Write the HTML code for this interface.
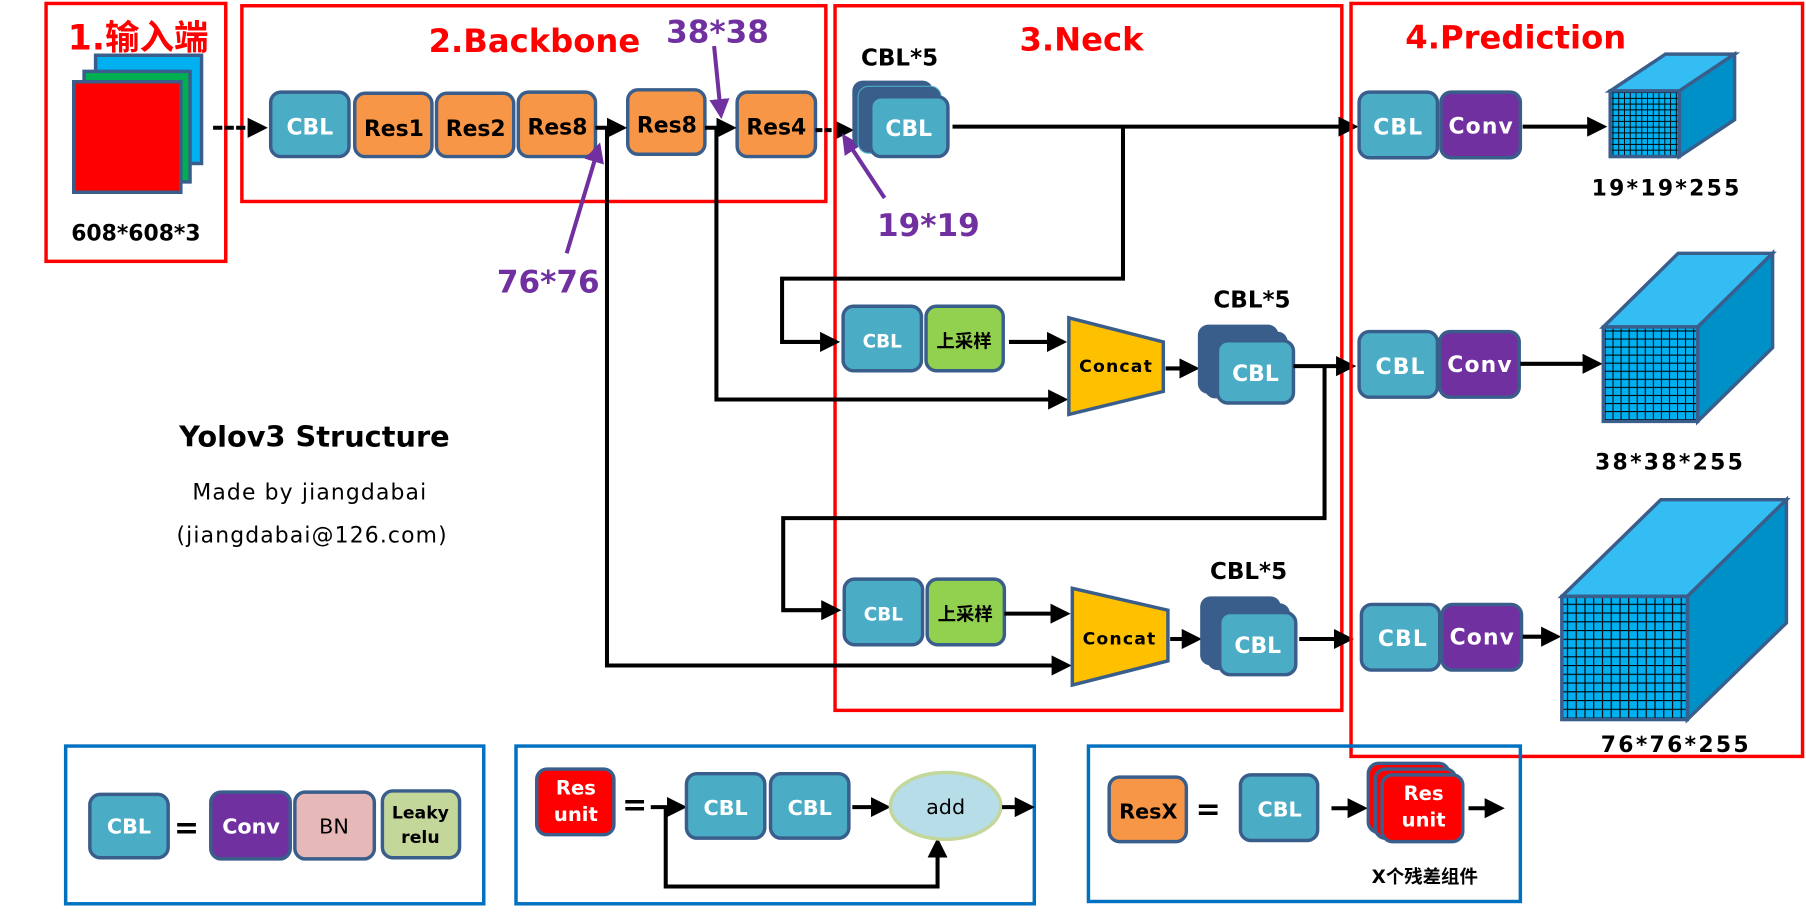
<!DOCTYPE html>
<html><head><meta charset="utf-8"><style>
html,body{margin:0;padding:0;background:#fff;}
svg{display:block;}
text{font-family:"DejaVu Sans","Liberation Sans","Noto Sans CJK SC",sans-serif;font-weight:bold;}
.b{stroke:#3a5e8c;stroke-width:3;}
.w{fill:#fff;}
.k{fill:#000;}
.red{fill:none;stroke:#ff0000;stroke-width:3;}
.blue{fill:none;stroke:#0070c0;stroke-width:3;}
.ln{fill:none;stroke:#000;stroke-width:3.5;}
.pl{fill:none;stroke:#7030a0;stroke-width:3.5;}
</style></head><body>
<svg width="1806" height="913" viewBox="0 0 1568 793" preserveAspectRatio="none" xmlns="http://www.w3.org/2000/svg">
<defs>
<marker id="ah" markerWidth="5" markerHeight="5" refX="4" refY="2.5" orient="auto" markerUnits="strokeWidth"><path d="M0,0 L5,2.5 L0,5 z" fill="#000"/></marker>
<marker id="ap" markerWidth="5" markerHeight="5" refX="4" refY="2.5" orient="auto" markerUnits="strokeWidth"><path d="M0,0 L5,2.5 L0,5 z" fill="#7030a0"/></marker>
<pattern id="g1" width="5" height="5" patternUnits="userSpaceOnUse"><rect width="5" height="5" fill="#00b0f0"/><path d="M0,0H5M0,0V5" stroke="#000" stroke-width="1.6"/></pattern>
<pattern id="g2" width="7" height="7" patternUnits="userSpaceOnUse"><rect width="7" height="7" fill="#00b0f0"/><path d="M0,0H7M0,0V7" stroke="#000" stroke-width="1.8"/></pattern>
<pattern id="g3" width="7.6" height="7.6" patternUnits="userSpaceOnUse"><rect width="7.6" height="7.6" fill="#00b0f0"/><path d="M0,0H7.6M0,0V7.6" stroke="#000" stroke-width="2"/></pattern>
</defs>

<!-- 1 input -->
<rect class="red" x="40" y="3" width="156" height="224"/>
<text x="120" y="43" font-size="30" fill="#ff0000" text-anchor="middle">1.输入端</text>
<rect x="83" y="48" width="92" height="94" fill="#00b0f0" class="b"/>
<rect x="73" y="62" width="92" height="96" fill="#00b050" class="b"/>
<rect x="64" y="71" width="93" height="96" fill="#ff0000" class="b"/>
<text x="118" y="209" font-size="19" text-anchor="middle" class="k">608*608*3</text>

<!-- 2 backbone -->
<rect class="red" x="210" y="5" width="507" height="170"/>
<text x="464" y="45" font-size="28" fill="#ff0000" text-anchor="middle">2.Backbone</text>
<text x="623" y="37" font-size="27" fill="#7030a0" text-anchor="middle">38*38</text>
<line class="ln" x1="185" y1="111" x2="229" y2="111" stroke-dasharray="8,2" marker-end="url(#ah)"/>
<rect x="235" y="80" width="68" height="56" rx="9" fill="#4bacc6" class="b"/>
<text x="269" y="117" font-size="19" text-anchor="middle" class="w">CBL</text>
<rect x="308" y="81" width="67" height="55" rx="9" fill="#f79646" class="b"/>
<text x="342" y="118" font-size="19" text-anchor="middle" class="k">Res1</text>
<rect x="379" y="81" width="67" height="55" rx="9" fill="#f79646" class="b"/>
<text x="413" y="118" font-size="19" text-anchor="middle" class="k">Res2</text>
<rect x="450" y="80" width="67" height="56" rx="9" fill="#f79646" class="b"/>
<text x="484" y="117" font-size="19" text-anchor="middle" class="k">Res8</text>
<rect x="545" y="78" width="67" height="56" rx="9" fill="#f79646" class="b"/>
<text x="579" y="115" font-size="19" text-anchor="middle" class="k">Res8</text>
<rect x="640" y="80" width="68" height="56" rx="9" fill="#f79646" class="b"/>
<text x="674" y="117" font-size="19" text-anchor="middle" class="k">Res4</text>
<line class="ln" x1="517" y1="111" x2="541" y2="111" marker-end="url(#ah)"/>
<line class="ln" x1="612" y1="111" x2="636" y2="111" marker-end="url(#ah)"/>
<line class="ln" x1="708" y1="113" x2="738" y2="113" stroke-dasharray="6,2" marker-end="url(#ah)"/>
<line class="pl" x1="620" y1="40" x2="626" y2="100" marker-end="url(#ap)"/>
<line class="pl" x1="492" y1="220" x2="520" y2="127" marker-end="url(#ap)"/>
<text x="476" y="254" font-size="27" fill="#7030a0" text-anchor="middle">76*76</text>
<line class="pl" x1="768" y1="172" x2="733" y2="119" marker-end="url(#ap)"/>
<text x="806" y="205" font-size="27" fill="#7030a0" text-anchor="middle">19*19</text>

<!-- Yolov3 text -->
<text x="273" y="388" font-size="25" text-anchor="middle" class="k">Yolov3 Structure</text>
<text x="269" y="434" font-size="19" style="font-weight:normal" text-anchor="middle" letter-spacing="1" class="k">Made by jiangdabai</text>
<text x="271" y="471" font-size="19" style="font-weight:normal" text-anchor="middle" letter-spacing="1" class="k">(jiangdabai@126.com)</text>

<!-- 3 neck -->
<rect class="red" x="725" y="5" width="440" height="612"/>
<text x="939" y="44" font-size="28" fill="#ff0000" text-anchor="middle">3.Neck</text>
<text x="781" y="57" font-size="20" text-anchor="middle" class="k">CBL*5</text>
<rect x="740" y="70" width="70" height="58" rx="9" fill="#3a5e8c"/>
<rect x="745" y="75" width="72" height="58" rx="9" fill="#3a5e8c" stroke="#4bacc6" stroke-width="1"/>
<rect x="756" y="84" width="67" height="52" rx="9" fill="#4bacc6" class="b"/>
<text x="789" y="118" font-size="19" text-anchor="middle" class="w">CBL</text>

<polyline class="ln" points="827,110 1176,110" marker-end="url(#ah)"/>
<polyline class="ln" points="975,110 975,242 679,242 679,297 726,297" marker-end="url(#ah)"/>
<polyline class="ln" points="622,111 622,347 924,347" marker-end="url(#ah)"/>
<polyline class="ln" points="527,111 527,578 927,578" marker-end="url(#ah)"/>

<!-- row 2 -->
<rect x="732" y="266" width="68" height="56" rx="9" fill="#4bacc6" class="b"/>
<text x="766" y="302" font-size="16" text-anchor="middle" class="w">CBL</text>
<rect x="804" y="266" width="67" height="56" rx="9" fill="#92d050" class="b"/>
<text x="837" y="302" font-size="16" text-anchor="middle" class="k">上采样</text>
<line class="ln" x1="876" y1="297" x2="923" y2="297" marker-end="url(#ah)"/>
<polygon points="928,276 1010,297 1010,340 928,360" fill="#ffc000" class="b"/>
<text x="969" y="323" font-size="15" text-anchor="middle" class="k" letter-spacing="1">Concat</text>
<line class="ln" x1="1012" y1="320" x2="1038" y2="320" marker-end="url(#ah)"/>
<text x="1087" y="267" font-size="20" text-anchor="middle" class="k">CBL*5</text>
<rect x="1040" y="282" width="70" height="60" rx="9" fill="#3a5e8c"/>
<rect x="1046" y="288" width="72" height="58" rx="9" fill="#3a5e8c"/>
<rect x="1057" y="296" width="66" height="54" rx="9" fill="#4bacc6" class="b"/>
<text x="1090" y="331" font-size="19" text-anchor="middle" class="w">CBL</text>
<polyline class="ln" points="1123,318 1174,318" marker-end="url(#ah)"/>
<polyline class="ln" points="1150,318 1150,450 680,450 680,530 727,530" marker-end="url(#ah)"/>

<!-- row 3 -->
<rect x="733" y="503" width="68" height="57" rx="9" fill="#4bacc6" class="b"/>
<text x="767" y="539" font-size="16" text-anchor="middle" class="w">CBL</text>
<rect x="805" y="503" width="67" height="57" rx="9" fill="#92d050" class="b"/>
<text x="838" y="539" font-size="16" text-anchor="middle" class="k">上采样</text>
<line class="ln" x1="872" y1="533" x2="926" y2="533" marker-end="url(#ah)"/>
<polygon points="931,511 1014,530 1014,574 931,595" fill="#ffc000" class="b"/>
<text x="972" y="560" font-size="15" text-anchor="middle" class="k" letter-spacing="1">Concat</text>
<line class="ln" x1="1016" y1="555" x2="1040" y2="555" marker-end="url(#ah)"/>
<text x="1084" y="503" font-size="20" text-anchor="middle" class="k">CBL*5</text>
<rect x="1042" y="518" width="70" height="60" rx="9" fill="#3a5e8c"/>
<rect x="1048" y="524" width="72" height="58" rx="9" fill="#3a5e8c"/>
<rect x="1059" y="532" width="66" height="54" rx="9" fill="#4bacc6" class="b"/>
<text x="1092" y="567" font-size="19" text-anchor="middle" class="w">CBL</text>
<line class="ln" x1="1128" y1="555" x2="1172" y2="555" marker-end="url(#ah)"/>

<!-- 4 prediction -->
<rect class="red" x="1173" y="3" width="392" height="654"/>
<text x="1316" y="42" font-size="28" fill="#ff0000" text-anchor="middle">4.Prediction</text>

<rect x="1180" y="80" width="68" height="57" rx="9" fill="#4bacc6" class="b"/>
<text x="1214" y="117" font-size="19" text-anchor="middle" class="w" letter-spacing="1">CBL</text>
<rect x="1251" y="80" width="69" height="57" rx="9" fill="#7030a0" class="b"/>
<text x="1286" y="116" font-size="19" text-anchor="middle" class="w" letter-spacing="1">Conv</text>
<line class="ln" x1="1322" y1="110" x2="1392" y2="110" marker-end="url(#ah)"/>
<polygon points="1398,79 1446,47 1506,47 1458,79" fill="#33bdf2" class="b"/>
<polygon points="1458,79 1506,47 1506,104 1458,136" fill="#0090c8" class="b"/>
<rect x="1398" y="79" width="60" height="57" fill="url(#g1)" class="b"/>
<text x="1447" y="170" font-size="19" text-anchor="middle" class="k" letter-spacing="2">19*19*255</text>

<rect x="1180" y="288" width="68" height="57" rx="9" fill="#4bacc6" class="b"/>
<text x="1216" y="325" font-size="19" text-anchor="middle" class="w" letter-spacing="1">CBL</text>
<rect x="1250" y="288" width="69" height="57" rx="9" fill="#7030a0" class="b"/>
<text x="1285" y="323" font-size="19" text-anchor="middle" class="w" letter-spacing="1">Conv</text>
<line class="ln" x1="1320" y1="316" x2="1388" y2="316" marker-end="url(#ah)"/>
<polygon points="1392,284 1457,220 1539,220 1474,284" fill="#33bdf2" class="b"/>
<polygon points="1474,284 1539,220 1539,302 1474,366" fill="#0090c8" class="b"/>
<rect x="1392" y="284" width="82" height="82" fill="url(#g2)" class="b"/>
<text x="1450" y="408" font-size="19" text-anchor="middle" class="k" letter-spacing="2">38*38*255</text>

<rect x="1182" y="525" width="68" height="57" rx="9" fill="#4bacc6" class="b"/>
<text x="1218" y="561" font-size="19" text-anchor="middle" class="w" letter-spacing="1">CBL</text>
<rect x="1252" y="525" width="69" height="57" rx="9" fill="#7030a0" class="b"/>
<text x="1287" y="560" font-size="19" text-anchor="middle" class="w" letter-spacing="1">Conv</text>
<line class="ln" x1="1322" y1="553" x2="1352" y2="553" marker-end="url(#ah)"/>
<polygon points="1356,518 1442,434 1551,434 1465,518" fill="#33bdf2" class="b"/>
<polygon points="1465,518 1551,434 1551,541 1465,625" fill="#0090c8" class="b"/>
<rect x="1356" y="518" width="109" height="107" fill="url(#g3)" class="b"/>
<text x="1455" y="653" font-size="19" text-anchor="middle" class="k" letter-spacing="2">76*76*255</text>

<!-- legend 1 -->
<rect class="blue" x="57" y="648" width="363" height="137"/>
<rect x="78" y="690" width="68" height="55" rx="9" fill="#4bacc6" class="b"/>
<text x="112" y="724" font-size="18" text-anchor="middle" class="w">CBL</text>
<text x="162" y="728" font-size="26" text-anchor="middle" class="k">=</text>
<rect x="183" y="688" width="69" height="58" rx="9" fill="#7030a0" class="b"/>
<text x="218" y="724" font-size="18" text-anchor="middle" class="w">Conv</text>
<rect x="256" y="688" width="69" height="58" rx="9" fill="#e6b9b8" class="b"/>
<text x="290" y="724" font-size="18" style="font-weight:normal" text-anchor="middle" class="k">BN</text>
<rect x="332" y="687" width="67" height="58" rx="9" fill="#c4d79b" class="b"/>
<text x="365" y="711" font-size="15" text-anchor="middle" class="k">Leaky</text>
<text x="365" y="732" font-size="15" text-anchor="middle" class="k">relu</text>

<!-- legend 2 -->
<rect class="blue" x="448" y="648" width="450" height="137"/>
<rect x="466" y="668" width="67" height="57" rx="9" fill="#ff0000" class="b"/>
<text x="500" y="690" font-size="17" text-anchor="middle" class="w">Res</text>
<text x="500" y="713" font-size="17" text-anchor="middle" class="w">unit</text>
<text x="551" y="708" font-size="26" text-anchor="middle" class="k">=</text>
<line class="ln" x1="565" y1="701" x2="593" y2="701" marker-end="url(#ah)"/>
<polyline class="ln" points="578,701 578,770 814,770 814,731" marker-end="url(#ah)"/>
<rect x="596" y="672" width="68" height="56" rx="9" fill="#4bacc6" class="b"/>
<text x="630" y="708" font-size="18" text-anchor="middle" class="w">CBL</text>
<rect x="669" y="672" width="68" height="56" rx="9" fill="#4bacc6" class="b"/>
<text x="703" y="708" font-size="18" text-anchor="middle" class="w">CBL</text>
<line class="ln" x1="740" y1="701" x2="770" y2="701" marker-end="url(#ah)"/>
<ellipse cx="821" cy="700" rx="48" ry="29" fill="#b7dde8" stroke="#c4d79b" stroke-width="3"/>
<text x="821" y="707" font-size="18" style="font-weight:normal" text-anchor="middle" class="k">add</text>
<line class="ln" x1="870" y1="701" x2="895" y2="701" marker-end="url(#ah)"/>

<!-- legend 3 -->
<rect class="blue" x="945" y="648" width="375" height="135"/>
<rect x="963" y="675" width="67" height="56" rx="9" fill="#f79646" class="b"/>
<text x="997" y="711" font-size="18" text-anchor="middle" class="k">ResX</text>
<text x="1049" y="712" font-size="26" text-anchor="middle" class="k">=</text>
<rect x="1077" y="673" width="67" height="57" rx="9" fill="#4bacc6" class="b"/>
<text x="1111" y="709" font-size="18" text-anchor="middle" class="w">CBL</text>
<line class="ln" x1="1156" y1="702" x2="1184" y2="702" marker-end="url(#ah)"/>
<rect x="1188" y="663" width="70" height="60" rx="9" fill="#ff0000" class="b"/>
<rect x="1194" y="668" width="70" height="60" rx="9" fill="#ff0000" class="b"/>
<rect x="1200" y="673" width="70" height="58" rx="9" fill="#ff0000" class="b"/>
<text x="1236" y="695" font-size="17" text-anchor="middle" class="w">Res</text>
<text x="1236" y="718" font-size="17" text-anchor="middle" class="w">unit</text>
<line class="ln" x1="1275" y1="702" x2="1303" y2="702" marker-end="url(#ah)"/>
<text x="1237" y="767" font-size="16" text-anchor="middle" class="k">X个残差组件</text>
</svg>
</body></html>
